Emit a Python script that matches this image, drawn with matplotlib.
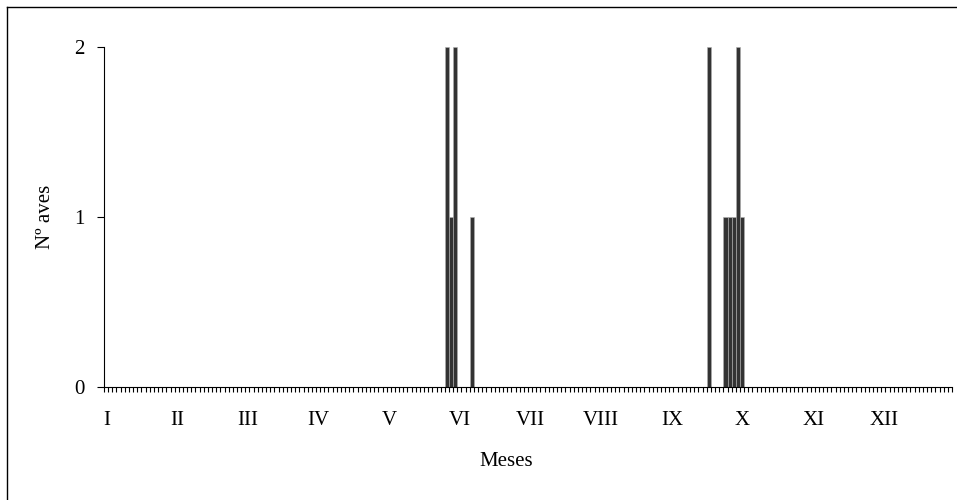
import matplotlib
matplotlib.use("Agg")
import matplotlib.pyplot as plt
import numpy as np

plt.rcParams['font.family'] = ['Liberation Serif', 'DejaVu Serif']

# 17 bins per month, 12 months
n_bins = 204
bins_per_month = 17
months = ['I', 'II', 'III', 'IV', 'V', 'VI', 'VII', 'VIII', 'IX', 'X', 'XI', 'XII']

# bins with records and number of birds
obs_bins = [82, 83, 84, 88, 145, 149, 150, 151, 152, 153]
obs_birds = [2, 1, 2, 1, 2, 1, 1, 1, 2, 1]

counts = np.zeros(n_bins)
counts[obs_bins] = obs_birds

W, H = 957, 500
fs = 15
fig = plt.figure(figsize=(W / 100, H / 100), dpi=100)
ax = fig.add_axes([104 / W, 1 - 387 / H, 848 / W, 340 / H])

x = np.arange(n_bins)
ax.bar(x, counts, width=1.0, color='#333333', edgecolor='#b0b0b0', linewidth=0.4)

ax.set_xlim(-0.5, n_bins - 0.5)
ax.set_ylim(0, 2)
ax.set_yticks([0, 1, 2])
ax.set_yticklabels(['0', '1', '2'], fontsize=fs)

# month labels as major ticks without marks, bin edges as minor ticks
ax.set_xticks([bins_per_month * i + 0.1 for i in range(12)])
ax.set_xticklabels(months, fontsize=fs)
ax.set_xticks(np.arange(n_bins + 1) - 0.5, minor=True)
ax.tick_params(axis='x', which='major', length=0, pad=17)
ax.tick_params(axis='x', which='minor', length=3.6, width=0.8, direction='out')
ax.tick_params(axis='y', length=4.8, width=0.8, direction='out', pad=9)

for s in ['top', 'right']:
    ax.spines[s].set_visible(False)
for s in ['left', 'bottom']:
    ax.spines[s].set_linewidth(0.8)

fig.text(506 / W, 1 - 462 / H, 'Meses', fontsize=fs, ha='center', va='center')
fig.text(45 / W, 1 - 217 / H, 'Nº aves', rotation=90, fontsize=fs,
         ha='center', va='center')

# outer chart border (only top and left visible in the crop)
fig.add_artist(plt.Line2D([7 / W, 1.0], [1 - 7 / H, 1 - 7 / H], color='black', lw=1))
fig.add_artist(plt.Line2D([7 / W, 7 / W], [0.0, 1 - 7 / H], color='black', lw=1))

fig.savefig('out.png', dpi=100)
